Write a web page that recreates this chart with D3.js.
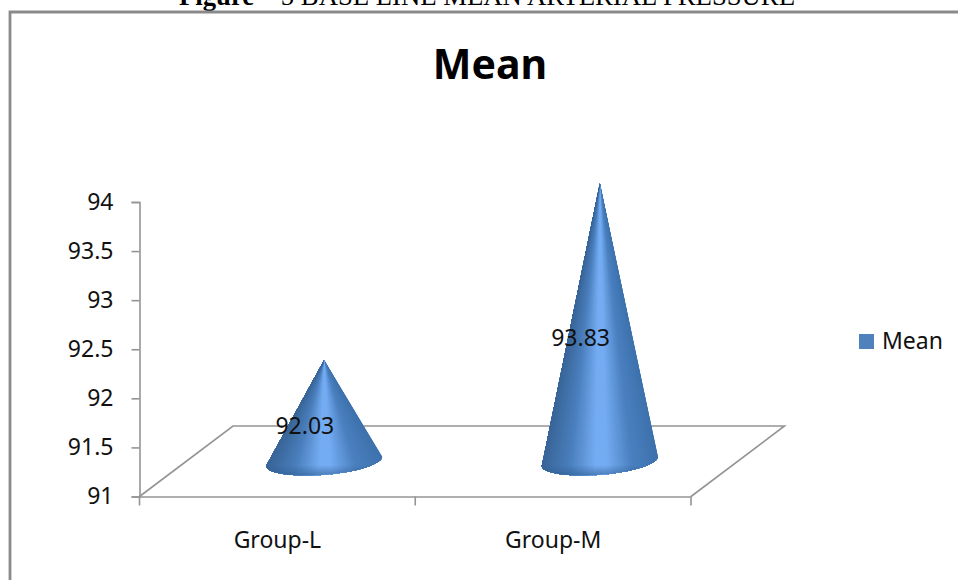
<!DOCTYPE html>
<html>
<head>
<meta charset="utf-8">
<script src="https://cdn.jsdelivr.net/npm/d3@7/dist/d3.min.js"></script>
<style>
  html, body { margin: 0; padding: 0; background: #fff; overflow: hidden; }
  svg { display: block; }
  text { font-family: "Noto Sans", sans-serif; fill: #111; }
</style>
</head>
<body>
<svg id="chart" width="958" height="580"></svg>
<script>
// Chart content
const categories = ["Group-L", "Group-M"];
const seriesName = "Mean";
const meanValues = [92.03, 93.83];
const valueTicks = [91, 91.5, 92, 92.5, 93, 93.5, 94];
const captionBold = "Figure";
const captionRest = " – 5 BASE LINE MEAN ARTERIAL PRESSURE";

const svg = d3.select("#chart");
const GRAY = "#949494";
const LABEL_SIZE = "23px";

// Scales for the front plane of the 3-D plot box
const y = d3.scaleLinear().domain([91, 94]).range([496.5, 202]);
const x = d3.scaleBand().domain(categories).range([139.5, 691]);

// Offset of the back edge of the floor from its front edge
const depth = { dx: 93.5, dy: -70.5 };

// Caption above the frame, running off the top of the page
const caption = svg.append("text")
  .attr("x", 179).attr("y", 5)
  .style("font-family", '"Liberation Serif", serif')
  .style("font-size", "26.7px")
  .style("fill", "#000");
caption.append("tspan").style("font-weight", "bold").text(captionBold);
caption.append("tspan").attr("xml:space", "preserve").text(captionRest);

// Chart frame: open at the right and bottom edges of the page
svg.append("path")
  .attr("d", "M10,585V12H965")
  .attr("fill", "none").attr("stroke", "#8a8a8a").attr("stroke-width", 2.8);

svg.append("text")
  .attr("x", 490).attr("y", 79)
  .attr("text-anchor", "middle")
  .style("font-size", "41px").style("font-weight", "bold").style("fill", "#000")
  .text(seriesName);

// Floor of the plot box
const [x0, x1] = x.range();
const y0 = y(91);
svg.append("path")
  .attr("d", `M${x0},${y0}L${x0 + depth.dx},${y0 + depth.dy}H${x1 + depth.dx}L${x1},${y0}`)
  .attr("fill", "none").attr("stroke", GRAY).attr("stroke-width", 1.6);

// Axes
const yAxis = d3.axisLeft(y).tickValues(valueTicks).tickFormat(d3.format("~g"))
  .tickSize(8).tickPadding(18);
const gy = svg.append("g").attr("transform", `translate(${x0},0)`).call(yAxis);

const xAxis = d3.axisBottom(x).tickSize(0).tickPadding(35);
const gx = svg.append("g").attr("transform", `translate(0,${y0})`).call(xAxis);
gx.selectAll(".tick line").remove();

// Category boundary ticks sit between the bands
gx.selectAll(".boundary")
  .data([x0, x0 + x.step(), x0 + 2 * x.step()])
  .join("line")
  .attr("class", "boundary")
  .attr("x1", d => d).attr("x2", d => d)
  .attr("y1", 0).attr("y2", 9)
  .attr("stroke", GRAY).attr("stroke-width", 1.6);

for (const g of [gx, gy]) {
  g.select(".domain").attr("stroke", GRAY).attr("stroke-width", 1.6);
  g.selectAll(".tick line").attr("stroke", GRAY).attr("stroke-width", 1.6);
  g.selectAll("text")
    .style("font-family", '"Noto Sans", sans-serif')
    .style("font-size", LABEL_SIZE).style("fill", "#111");
}

// Cone shading: a bright band down the middle, darker towards the flanks
const shade = d3.scaleLinear()
  .domain([-1, -0.55, -0.1, 0.1, 0.55, 1])
  .range(["#3d72ad", "#4a80bf", "#74acf2", "#74acf2", "#4a7fbd", "#3a6699"])
  .interpolate(d3.interpolateRgb);

const defs = svg.append("defs");
const rim = defs.append("linearGradient").attr("id", "rim")
  .attr("x1", 0).attr("x2", 0).attr("y1", 0).attr("y2", 1);
rim.append("stop").attr("offset", "45%").attr("stop-color", "#2d5a8e").attr("stop-opacity", 0);
rim.append("stop").attr("offset", "100%").attr("stop-color", "#2d5a8e").attr("stop-opacity", 0.6);

// Base ellipse of each cone, slightly rotated by the oblique view
const tilt = -4.7 * Math.PI / 180;
const radiusX = 58.2, radiusY = 13.5;
const SLICES = 90;
const basePoint = (cx, cy, t) => {
  const px = radiusX * Math.cos(t), py = radiusY * Math.sin(t);
  return [cx + px * Math.cos(tilt) - py * Math.sin(tilt),
          cy + px * Math.sin(tilt) + py * Math.cos(tilt)];
};

const cones = svg.append("g").selectAll("g")
  .data(categories.map((c, i) => ({ category: c, value: meanValues[i] })))
  .join("g");

cones.each(function (d) {
  const g = d3.select(this);
  const cx = x(d.category) + x.bandwidth() / 2 + depth.dx / 2;
  const cy = y0 + depth.dy / 2;
  const apex = [cx, cy - (y0 - y(d.value))];
  const arc = d3.range(SLICES + 1).map(i => basePoint(cx, cy, Math.PI * i / SLICES));

  // Layered fans from the apex: each one covers the rest of the base, so the
  // shading converges at the tip without seams between neighbouring colours
  g.selectAll("path.slice").data(d3.range(SLICES)).join("path")
    .attr("class", "slice")
    .attr("d", i => d3.line()([apex, ...arc.slice(i)]) + "Z")
    .attr("fill", i => shade(-Math.cos(Math.PI * (i + 0.5) / SLICES)));

  // Darker rim along the front of the base
  g.append("path")
    .attr("d", d3.line()(arc) + "Z")
    .attr("fill", "url(#rim)");
});

// Data labels
svg.append("g").selectAll("text")
  .data(meanValues)
  .join("text")
  .attr("x", (d, i) => x(categories[i]) + x.bandwidth() / 2 + 27.5)
  .attr("y", d => (y(d) + y0) / 2 - 19.5)
  .attr("dy", "0.35em")
  .attr("text-anchor", "middle")
  .style("font-size", LABEL_SIZE).style("fill", "#111")
  .text(d => d.toFixed(2));

// Legend
const legend = svg.append("g").attr("transform", "translate(859,334)");
legend.append("rect").attr("width", 15).attr("height", 15).attr("fill", "#4f81bd");
legend.append("text").attr("x", 23).attr("y", 7).attr("dy", "0.36em")
  .style("font-size", LABEL_SIZE).text(seriesName);
</script>
</body>
</html>
